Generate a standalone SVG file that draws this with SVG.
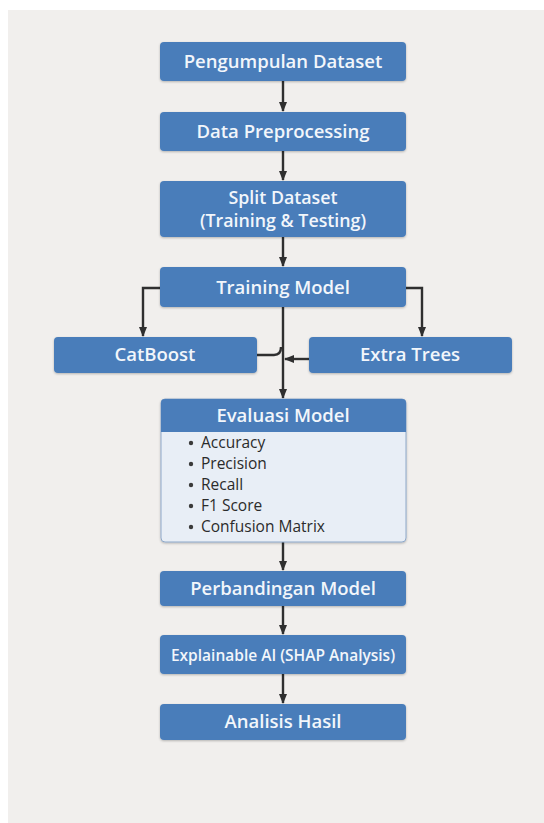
<svg xmlns="http://www.w3.org/2000/svg" width="544" height="823" viewBox="0 0 544 823">
<defs>
<marker id="ah" markerWidth="10" markerHeight="8" refX="9" refY="4" orient="auto" markerUnits="userSpaceOnUse">
<path d="M0,0 L10,4 L0,8 Z" fill="#2f2f2f"/>
</marker>
<filter id="sh" x="-5%" y="-10%" width="110%" height="130%">
<feDropShadow dx="0" dy="1" stdDeviation="1" flood-color="#000" flood-opacity="0.25"/>
</filter>
<style>
.box{fill:#4a7dba;filter:url(#sh)}
.t{font-family:"Open Sans",Lato,"Liberation Sans",sans-serif;fill:#f2f6fb;text-anchor:middle;font-size:18.5px;font-weight:600}
.b{font-family:"Open Sans",Lato,"Liberation Sans",sans-serif;fill:#2b2b2b;font-size:15.5px}
.d{fill:#3a3a3a}
.c{fill:none;stroke:#2f2f2f;stroke-width:2.4}
</style>
</defs>
<rect x="0" y="0" width="544" height="823" fill="#ffffff"/>
<rect x="8" y="10" width="536" height="813" fill="#f1efed"/>

<g id="connectors">
<path class="c" d="M283,81 V111" marker-end="url(#ah)"/>
<path class="c" d="M283,151 V180" marker-end="url(#ah)"/>
<path class="c" d="M283,237 V266" marker-end="url(#ah)"/>
<path class="c" d="M160,288 H143 V336" marker-end="url(#ah)"/>
<path class="c" d="M406,288 H422 V336" marker-end="url(#ah)"/>
<path class="c" d="M283,307 V398" marker-end="url(#ah)"/>
<path class="c" d="M257,355 H274 Q281,355 281,347"/>
<path class="c" d="M309,359 H285" marker-end="url(#ah)"/>
<path class="c" d="M283,542 V570" marker-end="url(#ah)"/>
<path class="c" d="M283,606 V634" marker-end="url(#ah)"/>
<path class="c" d="M283,674 V703" marker-end="url(#ah)"/>
</g>

<g id="n1"><rect class="box" x="160" y="42" width="246" height="39" rx="4"/><text class="t" x="283" y="68">Pengumpulan Dataset</text></g>
<g id="n2"><rect class="box" x="160" y="112" width="246" height="39" rx="4"/><text class="t" x="283" y="138">Data Preprocessing</text></g>
<g id="n3"><rect class="box" x="160" y="181" width="246" height="56" rx="4"/><text class="t" x="283" y="204" style="font-size:17.8px">Split Dataset</text><text class="t" x="283" y="227" style="font-size:17.8px">(Training &amp; Testing)</text></g>
<g id="n4"><rect class="box" x="160" y="267" width="246" height="40" rx="4"/><text class="t" x="283" y="294">Training Model</text></g>
<g id="n5"><rect class="box" x="54" y="337" width="203" height="36" rx="4"/><text class="t" x="155" y="361">CatBoost</text></g>
<g id="n6"><rect class="box" x="309" y="337" width="203" height="36" rx="4"/><text class="t" x="410" y="361">Extra Trees</text></g>
<g id="n7">
<rect x="161" y="399" width="245" height="143" rx="4" fill="#e8eef6" stroke="#8ea8c9" stroke-width="1" filter="url(#sh)"/>
<path d="M161,432 V403 Q161,399 165,399 H402 Q406,399 406,403 V432 Z" fill="#4a7dba"/>
<text class="t" x="283" y="422">Evaluasi Model</text>
<circle class="d" cx="191" cy="443" r="2.2"/><text class="b" x="201" y="448">Accuracy</text>
<circle class="d" cx="191" cy="464" r="2.2"/><text class="b" x="201" y="469">Precision</text>
<circle class="d" cx="191" cy="485" r="2.2"/><text class="b" x="201" y="490">Recall</text>
<circle class="d" cx="191" cy="506" r="2.2"/><text class="b" x="201" y="511">F1 Score</text>
<circle class="d" cx="191" cy="527" r="2.2"/><text class="b" x="201" y="532">Confusion Matrix</text>
</g>
<g id="n8"><rect class="box" x="160" y="571" width="246" height="35" rx="4"/><text class="t" x="283" y="595">Perbandingan Model</text></g>
<g id="n9"><rect class="box" x="160" y="635" width="246" height="39" rx="4"/><text class="t" x="283" y="661" style="font-size:15.5px">Explainable AI (SHAP Analysis)</text></g>
<g id="n10"><rect class="box" x="160" y="704" width="246" height="36" rx="4"/><text class="t" x="283" y="728">Analisis Hasil</text></g>
</svg>
